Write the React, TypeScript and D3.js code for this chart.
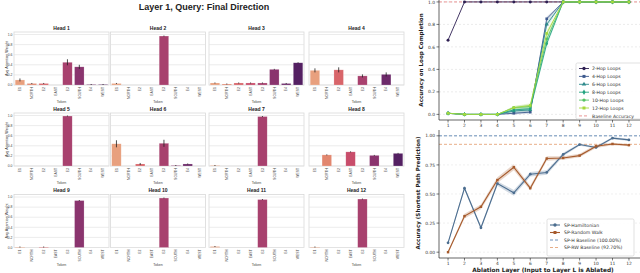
import * as d3 from 'd3';

const TOKENS = ['E1', 'NORTH', 'E2', 'EAST', 'E3', 'SOUTH', 'E4', 'WEST'];
const TOKEN_COLORS = ['#e8a07e', '#e2876f', '#d8656a', '#c84d6b', '#a8416e', '#8a346e', '#6d2a6a', '#542062'];
const HEADS = ['Head 1', 'Head 2', 'Head 3', 'Head 4', 'Head 5', 'Head 6', 'Head 7', 'Head 8', 'Head 9', 'Head 10', 'Head 11', 'Head 12'];
const HEAD_WEIGHTS = [
  [0.1, 0.03, 0.03, 0, 0.45, 0.36, 0.01, 0.01],
  [0.03, 0, 0, 0, 0.97, 0, 0, 0],
  [0.04, 0.02, 0.04, 0.04, 0.04, 0.31, 0.03, 0.44],
  [0.29, 0, 0.3, 0, 0.18, 0, 0.21, 0],
  [0, 0, 0, 0, 0.99, 0, 0, 0],
  [0.44, 0, 0.04, 0, 0.45, 0.01, 0.04, 0],
  [0.01, 0, 0, 0, 0.98, 0, 0, 0],
  [0, 0.22, 0, 0.28, 0, 0.21, 0, 0.25],
  [0.01, 0, 0.01, 0, 0, 0.93, 0, 0],
  [0, 0, 0, 0, 0.98, 0, 0, 0],
  [0.02, 0, 0, 0, 0.95, 0, 0, 0],
  [0.01, 0, 0, 0, 0.96, 0, 0, 0],
];
const HEAD_ERRORS = [
  [0.03, 0.01, 0.01, 0, 0.06, 0.04, 0.01, 0.01],
  [0.01, 0, 0, 0, 0.01, 0, 0, 0],
  [0.01, 0.01, 0.01, 0.01, 0.01, 0.01, 0.01, 0.01],
  [0.04, 0, 0.05, 0, 0.03, 0, 0.04, 0],
  [0, 0, 0, 0, 0.01, 0, 0, 0],
  [0.07, 0, 0.02, 0, 0.07, 0.01, 0.01, 0],
  [0.01, 0, 0, 0, 0.01, 0, 0, 0],
  [0, 0.01, 0, 0.01, 0, 0.01, 0, 0.01],
  [0.01, 0, 0.01, 0, 0, 0.01, 0, 0],
  [0, 0, 0, 0, 0.01, 0, 0, 0],
  [0.01, 0, 0, 0, 0.01, 0, 0, 0],
  [0.01, 0, 0, 0, 0.01, 0, 0, 0],
];
const WEIGHT_TICKS = [0, 0.2, 0.4, 0.6, 0.8, 1.0];

const LAYERS = [1, 2, 3, 4, 5, 6, 7, 8, 9, 10, 11, 12];
const LOOP_NAMES = ['2-Hop Loops', '4-Hop Loops', '6-Hop Loops', '8-Hop Loops', '10-Hop Loops', '12-Hop Loops'];
const LOOP_COLORS = ['#2e1f52', '#3d5a8e', '#2e8a8c', '#22a37f', '#57c365', '#a5d93c'];
const LOOP_ACC = [
  [0.66, 1, 1, 1, 1, 1, 1, 1, 1, 1, 1, 1],
  [0.01, 0, 0, 0, 0.01, 0.02, 0.85, 1, 1, 1, 1, 1],
  [0.01, 0, 0, 0, 0.03, 0.04, 0.8, 1, 1, 1, 1, 1],
  [0.01, 0, 0, 0, 0.04, 0.05, 0.63, 1, 1, 1, 1, 1],
  [0.01, 0, 0, 0, 0.06, 0.07, 0.67, 1, 1, 1, 1, 1],
  [0.01, 0, 0, 0, 0.06, 0.08, 0.72, 1, 1, 1, 1, 1],
];
const LOOP_CI = [
  [0, 0, 0, 0, 0, 0, 0, 0, 0, 0, 0, 0],
  [0, 0, 0, 0, 0.01, 0.015, 0.02, 0, 0, 0, 0, 0],
  [0, 0, 0, 0, 0.015, 0.02, 0.03, 0, 0, 0, 0, 0],
  [0, 0, 0, 0, 0.015, 0.02, 0.03, 0, 0, 0, 0, 0],
  [0, 0, 0, 0, 0.015, 0.02, 0.03, 0, 0, 0, 0, 0],
  [0, 0, 0, 0, 0.015, 0.02, 0.03, 0, 0, 0, 0, 0],
];
const LOOP_TICKS = [0, 0.2, 0.4, 0.6, 0.8, 1.0];

const SP_NAMES = ['SP-Hamiltonian', 'SP-Random Walk'];
const SP_COLORS = ['#4b6d8f', '#a65a2c'];
const SP_ACC = [
  [0.08, 0.55, 0.21, 0.59, 0.51, 0.67, 0.685, 0.84, 0.925, 0.9, 0.98, 0.965],
  [0.0, 0.31, 0.39, 0.62, 0.73, 0.55, 0.805, 0.81, 0.83, 0.91, 0.93, 0.92],
];
const SP_CI = [
  [0.01, 0.015, 0.015, 0.02, 0.025, 0.02, 0.02, 0.015, 0.01, 0.01, 0.01, 0.01],
  [0.01, 0.02, 0.02, 0.025, 0.025, 0.02, 0.02, 0.015, 0.015, 0.015, 0.01, 0.01],
];
const SP_BASELINES = [1.0, 0.927];
const SP_BASELINE_LABELS = ['SP-H Baseline (100.00%)', 'SP-RW Baseline (92.70%)'];
const SP_BASELINE_COLORS = ['#5b84b1', '#e4a57a'];
const SP_TICKS = [0, 0.25, 0.5, 0.75, 1.0];

const LEFT_FONT = '"Liberation Sans", Arial, sans-serif';
const RIGHT_FONT = '"DejaVu Sans", sans-serif';

// facet grid geometry
const PANEL_X = [14, 110.5, 209, 309];
const PANEL_W = 95;
const PANEL_TOP = [32, 113, 194.5];
const PANEL_H = 53;

function HeadPanel({ idx }: { idx: number }) {
  const col = idx % 4;
  const row = Math.floor(idx / 4);
  const x0 = PANEL_X[col];
  const y0 = PANEL_TOP[row];
  const x = d3.scaleBand<string>().domain(TOKENS).range([x0, x0 + PANEL_W]).paddingInner(0.2).paddingOuter(0.1);
  const y = d3.scaleLinear().domain([0, 1.05]).range([y0 + PANEL_H, y0]);
  const vals = HEAD_WEIGHTS[idx];
  const errs = HEAD_ERRORS[idx];
  return (
    <g>
      <rect x={x0} y={y0} width={PANEL_W} height={PANEL_H} fill="#fff" stroke="#d9d9d9" strokeWidth={0.8} />
      {WEIGHT_TICKS.map((t) => (
        <line key={t} x1={x0} x2={x0 + PANEL_W} y1={y(t)} y2={y(t)} stroke="#e4e4e4" strokeWidth={0.7} />
      ))}
      {vals.map((v, i) => (
        <rect
          key={i}
          x={x(TOKENS[i])}
          y={y(v)}
          width={x.bandwidth()}
          height={y(0) - y(v)}
          fill={TOKEN_COLORS[i]}
          stroke="#fff"
          strokeOpacity={0.4}
          strokeWidth={0.5}
        />
      ))}
      {vals.map((v, i) =>
        errs[i] > 0 ? (
          <line
            key={'e' + i}
            x1={(x(TOKENS[i]) ?? 0) + x.bandwidth() / 2}
            x2={(x(TOKENS[i]) ?? 0) + x.bandwidth() / 2}
            y1={y(Math.max(0, v - errs[i]))}
            y2={y(v + errs[i])}
            stroke="#222"
            strokeWidth={0.8}
          />
        ) : null
      )}
      <text x={x0 + PANEL_W / 2} y={y0 - 2.5} textAnchor="middle" fontSize={5} fontWeight="bold" fill="#222">
        {HEADS[idx]}
      </text>
      {TOKENS.map((t) => {
        const cx = (x(t) ?? 0) + x.bandwidth() / 2;
        return (
          <text
            key={t}
            transform={`translate(${cx + 1.2},${y0 + PANEL_H + 2}) rotate(-90)`}
            textAnchor="end"
            fontSize={3.4}
            fill="#444"
          >
            {t}
          </text>
        );
      })}
      <text x={x0 + PANEL_W / 2} y={y0 + PANEL_H + 18} textAnchor="middle" fontSize={3.6} fill="#444">
        Token
      </text>
      {col === 0 && (
        <g>
          {WEIGHT_TICKS.map((t) => (
            <text key={t} x={x0 - 1.5} y={y(t) + 1.2} textAnchor="end" fontSize={3.4} fill="#444">
              {t.toFixed(1)}
            </text>
          ))}
          <text
            transform={`translate(${x0 - 6},${y0 + PANEL_H / 2}) rotate(-90)`}
            textAnchor="middle"
            fontSize={3.8}
            fill="#333"
          >
            Avg Attention Weight
          </text>
        </g>
      )}
    </g>
  );
}

function symbolPath(i: number, size: number) {
  const types = [d3.symbolCircle, d3.symbolSquare, d3.symbolTriangle, d3.symbolDiamond, d3.symbolCircle, d3.symbolSquare];
  return d3.symbol().type(types[i]).size(size)() ?? '';
}

function LoopChart() {
  const x = d3.scaleLinear().domain([0.45, 12.55]).range([439, 638]);
  const y = d3.scaleLinear().domain([-0.05, 1.05]).range([120, -3.7]);
  const line = d3.line<number>().x((_, i) => x(LAYERS[i])).y((d) => y(d));
  const area = (s: number[], ci: number[]) =>
    d3.area<number>().x((_, i) => x(LAYERS[i])).y0((d, i) => y(d - ci[i])).y1((d, i) => y(d + ci[i]))(s) ?? '';
  return (
    <g fontFamily={RIGHT_FONT}>
      {LOOP_TICKS.map((t) => (
        <line key={t} x1={439} x2={640} y1={y(t)} y2={y(t)} stroke="#ddd" strokeWidth={0.6} strokeDasharray="2,2" />
      ))}
      <line x1={439} x2={640} y1={y(1)} y2={y(1)} stroke="#e88a8a" strokeWidth={0.9} strokeDasharray="3,2" />
      {LOOP_ACC.map((s, k) => (
        <path key={'a' + k} d={area(s, LOOP_CI[k])} fill={LOOP_COLORS[k]} opacity={0.2} />
      ))}
      {LOOP_ACC.map((s, k) => (
        <g key={k}>
          <path d={line(s) ?? ''} fill="none" stroke={LOOP_COLORS[k]} strokeWidth={0.9} />
          {s.map((v, i) => (
            <path key={i} transform={`translate(${x(LAYERS[i])},${y(v)})`} d={symbolPath(k, 7)} fill={LOOP_COLORS[k]} />
          ))}
        </g>
      ))}
      <line x1={439} x2={439} y1={0} y2={120} stroke="#222" strokeWidth={0.7} />
      <line x1={439} x2={640} y1={120} y2={120} stroke="#222" strokeWidth={0.7} />
      {LOOP_TICKS.map((t) => (
        <g key={t}>
          <line x1={436.5} x2={439} y1={y(t)} y2={y(t)} stroke="#222" strokeWidth={0.6} />
          <text x={435} y={y(t) + 1.6} textAnchor="end" fontSize={4.4} fill="#333">
            {t.toFixed(1)}
          </text>
        </g>
      ))}
      {LAYERS.map((l) => (
        <g key={l}>
          <line x1={x(l)} x2={x(l)} y1={120} y2={122.5} stroke="#222" strokeWidth={0.6} />
          <text x={x(l)} y={127.3} textAnchor="middle" fontSize={4.4} fill="#333">
            {l}
          </text>
        </g>
      ))}
      <text transform="translate(423,60) rotate(-90)" textAnchor="middle" fontSize={5.6} fontWeight="bold" fill="#222">
        Accuracy on Loop Completion
      </text>
      <rect x={576} y={63} width={66} height={56} rx={1.5} fill="#fff" fillOpacity={0.9} stroke="#ccc" strokeWidth={0.6} />
      {LOOP_NAMES.map((n, k) => {
        const ly = 68.5 + k * 7.9;
        return (
          <g key={n}>
            <line x1={579} x2={589} y1={ly} y2={ly} stroke={LOOP_COLORS[k]} strokeWidth={0.9} />
            <path transform={`translate(584,${ly})`} d={symbolPath(k, 9)} fill={LOOP_COLORS[k]} />
            <text x={592} y={ly + 1.7} fontSize={4.6} fill="#333">
              {n}
            </text>
          </g>
        );
      })}
      <line x1={579} x2={589} y1={68.5 + 6 * 7.9} y2={68.5 + 6 * 7.9} stroke="#e88a8a" strokeWidth={0.9} strokeDasharray="3,2" />
      <text x={592} y={68.5 + 6 * 7.9 + 1.7} fontSize={4.6} fill="#333">
        Baseline Accuracy
      </text>
    </g>
  );
}

function ShortestPathChart() {
  const x = d3.scaleLinear().domain([0.45, 12.55]).range([439, 638]);
  const y = d3.scaleLinear().domain([-0.05, 1.05]).range([258, 130]);
  const line = d3.line<number>().x((_, i) => x(LAYERS[i])).y((d) => y(d));
  const area = (s: number[], ci: number[]) =>
    d3.area<number>().x((_, i) => x(LAYERS[i])).y0((d, i) => y(d - ci[i])).y1((d, i) => y(d + ci[i]))(s) ?? '';
  const markers = [d3.symbolCircle, d3.symbolSquare];
  return (
    <g fontFamily={RIGHT_FONT}>
      {SP_TICKS.map((t) => (
        <line key={t} x1={439} x2={640} y1={y(t)} y2={y(t)} stroke="#e6e6e6" strokeWidth={0.6} strokeDasharray="2,2" />
      ))}
      {SP_BASELINES.map((b, k) => (
        <line key={b} x1={439} x2={640} y1={y(b)} y2={y(b)} stroke={SP_BASELINE_COLORS[k]} strokeWidth={0.9} strokeDasharray="3,2" />
      ))}
      {SP_ACC.map((s, k) => (
        <path key={'a' + k} d={area(s, SP_CI[k])} fill={SP_COLORS[k]} opacity={0.25} />
      ))}
      {SP_ACC.map((s, k) => (
        <g key={k}>
          <path d={line(s) ?? ''} fill="none" stroke={SP_COLORS[k]} strokeWidth={1.1} />
          {s.map((v, i) => (
            <path
              key={i}
              transform={`translate(${x(LAYERS[i])},${y(v)})`}
              d={d3.symbol().type(markers[k]).size(6)() ?? ''}
              fill={SP_COLORS[k]}
            />
          ))}
        </g>
      ))}
      <line x1={439} x2={439} y1={130} y2={258} stroke="#222" strokeWidth={0.7} />
      <line x1={439} x2={640} y1={258} y2={258} stroke="#222" strokeWidth={0.7} />
      {SP_TICKS.map((t) => (
        <g key={t}>
          <line x1={436.5} x2={439} y1={y(t)} y2={y(t)} stroke="#222" strokeWidth={0.6} />
          <text x={435} y={y(t) + 1.6} textAnchor="end" fontSize={4.4} fill="#333">
            {t.toFixed(2)}
          </text>
        </g>
      ))}
      {LAYERS.map((l) => (
        <g key={l}>
          <line x1={x(l)} x2={x(l)} y1={258} y2={260.5} stroke="#222" strokeWidth={0.6} />
          <text x={x(l)} y={265} textAnchor="middle" fontSize={4.4} fill="#333">
            {l}
          </text>
        </g>
      ))}
      <text x={543} y={272} textAnchor="middle" fontSize={5.8} fontWeight="bold" fill="#222">
        Ablation Layer (Input to Layer L is Ablated)
      </text>
      <text transform="translate(420,193) rotate(-90)" textAnchor="middle" fontSize={5.6} fontWeight="bold" fill="#222">
        Accuracy (Shortest Path Prediction)
      </text>
      <rect x={547} y={219} width={87} height={37} rx={1.5} fill="#fff" fillOpacity={0.9} stroke="#ccc" strokeWidth={0.6} />
      {SP_NAMES.map((n, k) => {
        const ly = 225 + k * 7.5;
        return (
          <g key={n}>
            <line x1={550} x2={560} y1={ly} y2={ly} stroke={SP_COLORS[k]} strokeWidth={1.1} />
            <path transform={`translate(555,${ly})`} d={d3.symbol().type(markers[k]).size(9)() ?? ''} fill={SP_COLORS[k]} />
            <text x={564} y={ly + 1.7} fontSize={4.6} fill="#333">
              {n}
            </text>
          </g>
        );
      })}
      {SP_BASELINE_LABELS.map((n, k) => {
        const ly = 240 + k * 7.5;
        return (
          <g key={n}>
            <line x1={550} x2={560} y1={ly} y2={ly} stroke={SP_BASELINE_COLORS[k]} strokeWidth={0.9} strokeDasharray="3,2" />
            <text x={564} y={ly + 1.7} fontSize={4.6} fill="#333">
              {n}
            </text>
          </g>
        );
      })}
    </g>
  );
}

export default function App() {
  return (
    <div style={{ position: 'fixed', left: 0, top: 0 }}>
      <svg width={640} height={273} style={{ display: 'block', background: '#fff' }}>
        <g fontFamily={LEFT_FONT}>
          <text x={204} y={10} textAnchor="middle" fontSize={9} fontWeight="bold" fill="#222">
            Layer 1, Query: Final Direction
          </text>
          {HEADS.map((_, i) => (
            <HeadPanel key={i} idx={i} />
          ))}
        </g>
        <LoopChart />
        <ShortestPathChart />
      </svg>
    </div>
  );
}
